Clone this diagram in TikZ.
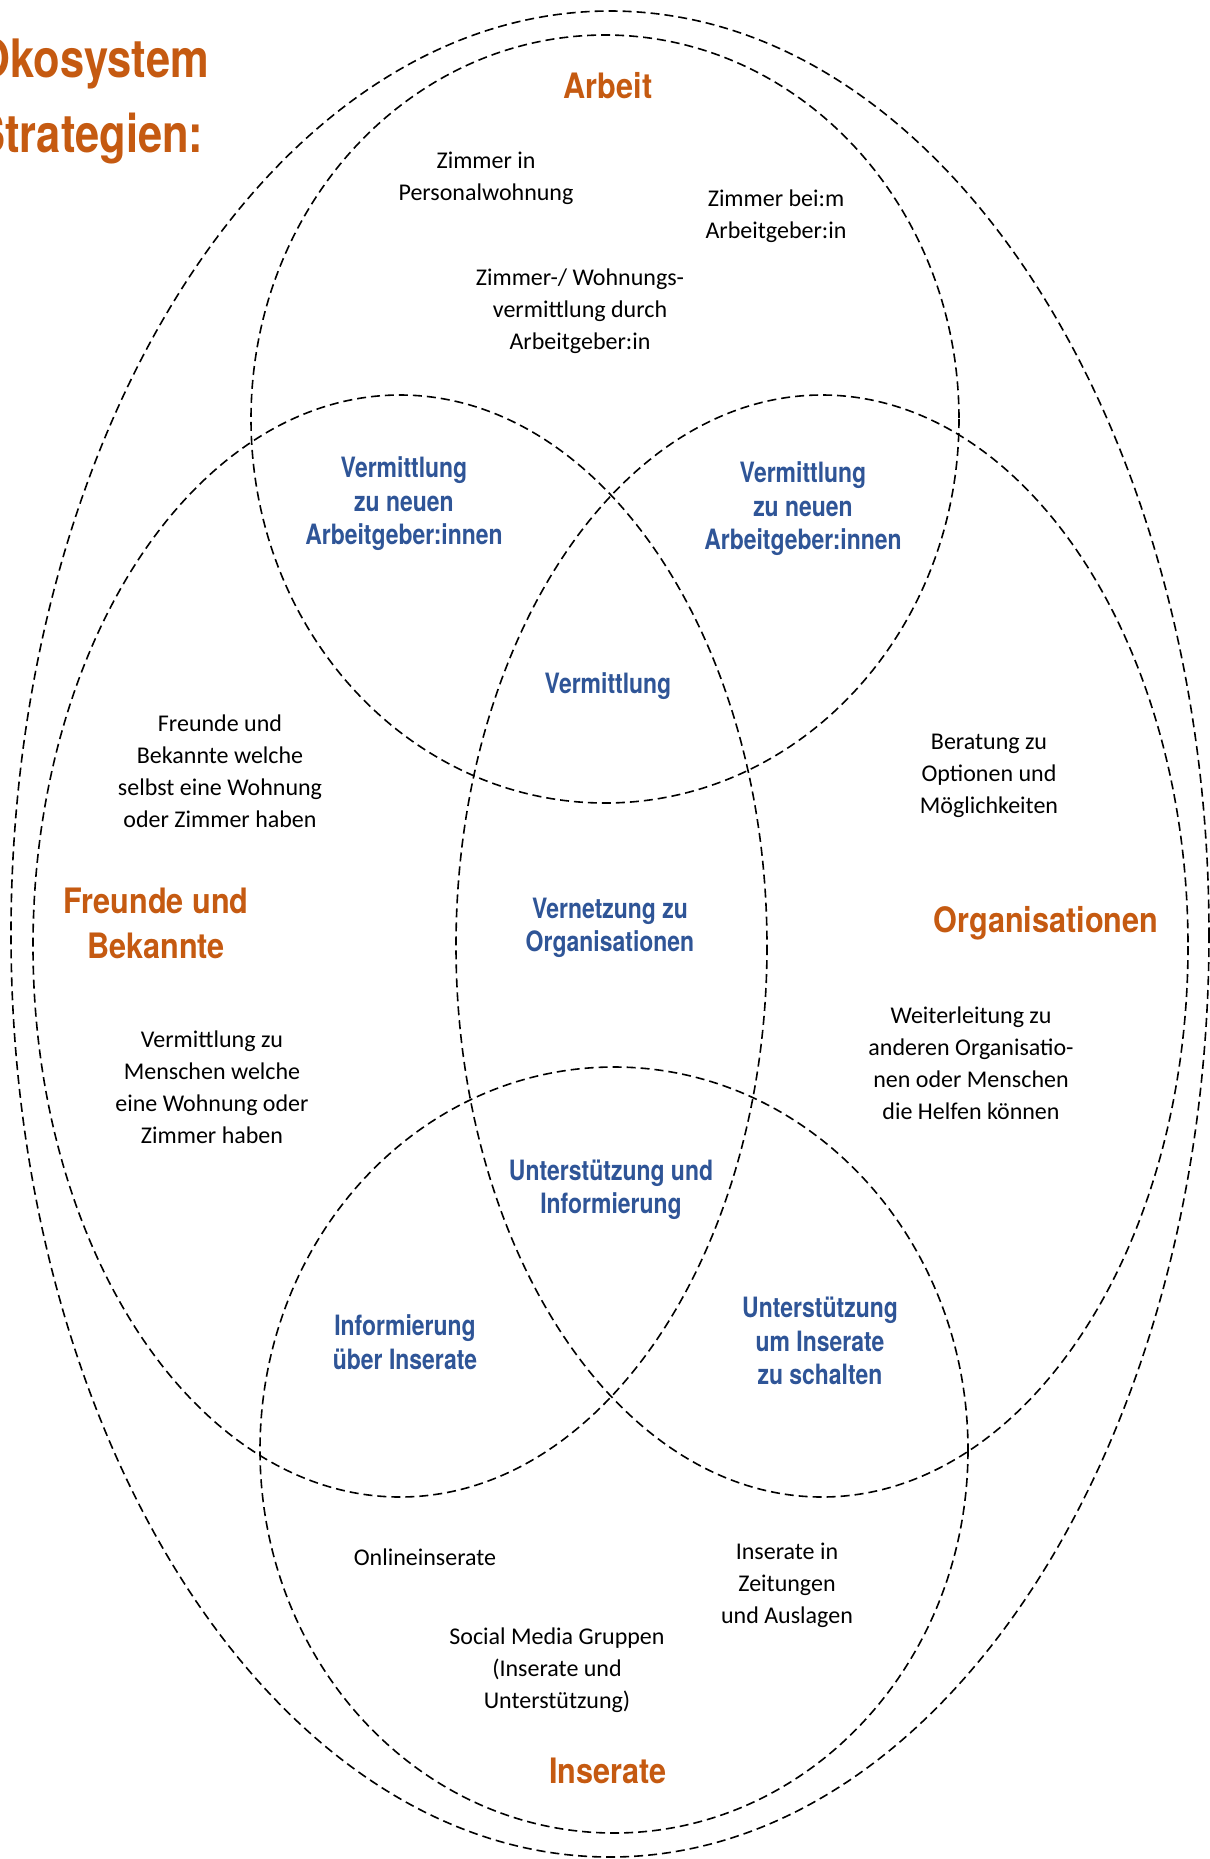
\documentclass[tikz,border=0pt]{standalone}
\usepackage{fontspec}
\setmainfont{Carlito}
\newfontfamily\condfont[FakeStretch=0.875]{TeX Gyre Heros}
\newfontfamily\narrowfont[FakeStretch=0.82]{TeX Gyre Heros}
\usepackage{tikz}
\usetikzlibrary{positioning}
\definecolor{headorange}{HTML}{C55A11}
\definecolor{labelblue}{HTML}{2F5597}

\begin{document}
\begin{tikzpicture}[x=0.5pt, y=-0.5pt,
    venn/.style={draw, line width=0.8pt, dash pattern=on 4.5pt off 2.5pt},
    title/.style={font=\narrowfont\bfseries\fontsize{26.5}{30}\selectfont, text=headorange, inner sep=0pt},
    field/.style={font=\condfont\bfseries\fontsize{17.5}{22.5}\selectfont, text=headorange, align=center, inner sep=0pt},
    overlap/.style={font=\narrowfont\bfseries\fontsize{14}{16.7}\selectfont, text=labelblue, align=center, inner sep=0pt},
    entry/.style={font=\fontsize{12}{16}\selectfont, align=center, inner sep=0pt}
]
\useasboundingbox (0,0) rectangle (1210,1859);

% Circles
\coordinate (eco) at (610,934);
\coordinate (arbeit) at (605,419);
\coordinate (inserate) at (614,1450);
\coordinate (freunde) at (400,946);
\coordinate (orga) at (822,946);

\draw[venn] (eco) ellipse [x radius=599, y radius=923];
\draw[venn] (arbeit) ellipse [x radius=354, y radius=384];
\draw[venn] (inserate) ellipse [x radius=354, y radius=383];
\draw[venn] (freunde) ellipse [x radius=367, y radius=551];
\draw[venn] (orga) ellipse [x radius=366, y radius=551];

% Title
\node[title, anchor=base west] (title1) at (-24,77) {Ökosystem};
\node[title, anchor=base west] (title2) at (-24,152) {Strategien:};

% Fields
\node[field, anchor=base] (h-arbeit) at (608,98) {Arbeit};
\node[field] (h-freunde) at (156,923) {Freunde und\\Bekannte};
\node[field, anchor=base] (h-orga) at (1046,932) {Organisationen};
\node[field, anchor=base] (h-inserate) at (608,1783) {Inserate};

% Overlaps
\node[overlap] (o-af) at (404,504) {Vermittlung\\zu neuen\\Arbeitgeber:innen};
\node[overlap] (o-ao) at (803,509) {Vermittlung\\zu neuen\\Arbeitgeber:innen};
\node[overlap, anchor=base] (o-afo) at (608,693) {Vermittlung};
\node[overlap] (o-fo) at (610,928) {Vernetzung zu\\Organisationen};
\node[overlap] (o-foi) at (611,1190) {Unterstützung und\\Informierung};
\node[overlap] (o-fi) at (405,1342) {Informierung\\über Inserate};
\node[overlap] (o-oi) at (820,1341) {Unterstützung\\um Inserate\\zu schalten};

% Arbeit
\node[entry] (a1) at (486,178) {Zimmer in\\Personalwohnung};
\node[entry] (a2) at (776,216) {Zimmer bei:m\\Arbeitgeber:in};
\node[entry] (a3) at (580,311) {Zimmer-/ Wohnungs-\\vermittlung durch\\Arbeitgeber:in};

% Freunde und Bekannte
\node[entry] (f1) at (220,771) {Freunde und\\Bekannte welche\\selbst eine Wohnung\\oder Zimmer haben};
\node[entry] (f2) at (212,1087) {Vermittlung zu\\Menschen welche\\eine Wohnung oder\\Zimmer haben};

% Organisationen
\node[entry] (g1) at (989,776) {Beratung zu\\Optionen und\\Möglichkeiten};
\node[entry] (g2) at (971,1063) {Weiterleitung zu\\anderen Organisatio-\\nen oder Menschen\\die Helfen können};

% Inserate
\node[entry, anchor=base] (i1) at (425,1565) {Onlineinserate};
\node[entry] (i2) at (787,1585) {Inserate in\\Zeitungen\\und Auslagen};
\node[entry] (i3) at (557,1670) {Social Media Gruppen\\(Inserate und\\Unterstützung)};

\end{tikzpicture}
\end{document}
